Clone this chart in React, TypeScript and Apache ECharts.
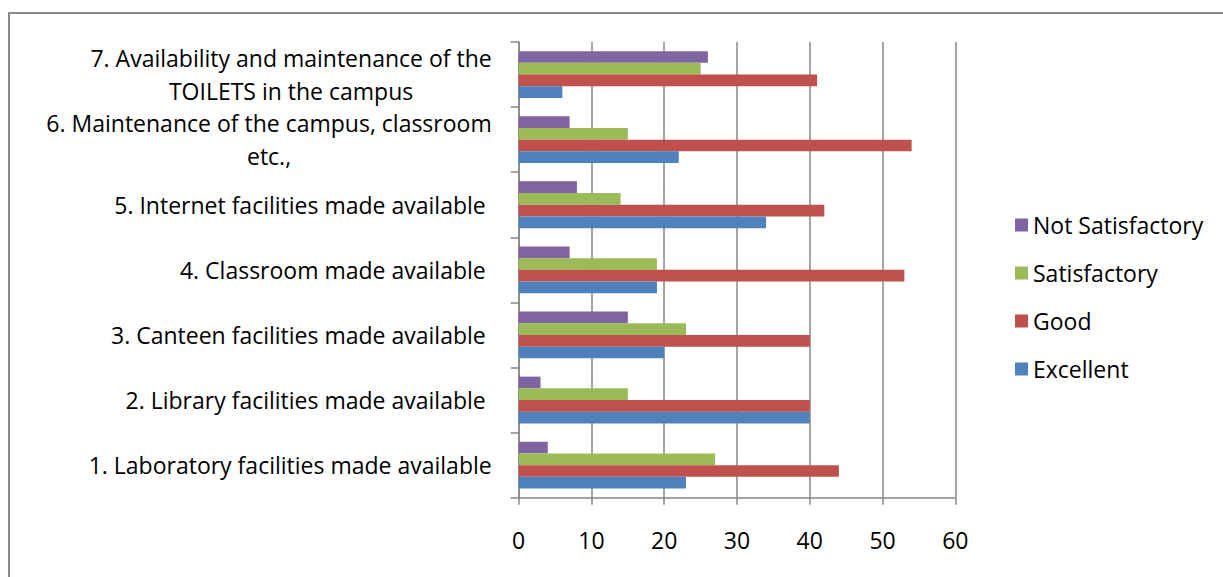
import React, { useEffect, useRef } from "react";
import * as echarts from "echarts";

const categories = [
  "1. Laboratory facilities made available",
  "2. Library facilities made available ",
  "3. Canteen facilities made available ",
  "4. Classroom made available ",
  "5. Internet facilities made available ",
  "6. Maintenance of the campus, classroom\netc.,",
  "7. Availability and maintenance of the\nTOILETS in the campus",
];

const excellent = [23, 40, 20, 19, 34, 22, 6];
const good = [44, 40, 40, 53, 42, 54, 41];
const satisfactory = [27, 15, 23, 19, 14, 15, 25];
const notSatisfactory = [4, 3, 15, 7, 8, 7, 26];

const xTicks = { min: 0, max: 60, interval: 10 };

const FONT = "'Open Sans', 'Noto Sans', sans-serif";
const FONT_SIZE = 23;
const GRID_GRAY = "#878787";

// Wrapped category names: each line is centred inside the label block.
const formatCategory = (value: string) =>
  value.includes("\n")
    ? value
        .split("\n")
        .map((line) => `{c|${line}}`)
        .join("\n")
    : value;

export default function App() {
  const ref = useRef<HTMLDivElement>(null);

  useEffect(() => {
    if (!ref.current) return;
    const chart = echarts.init(ref.current, null, { renderer: "svg" });

    const bar = (name: string, data: number[], color: string) => ({
      name,
      type: "bar",
      data,
      barWidth: 11.7,
      barGap: "0%",
      itemStyle: { color },
    });

    chart.setOption({
      animation: false,
      backgroundColor: "#ffffff",
      textStyle: { fontFamily: FONT, color: "#000" },
      grid: { left: 518.7, right: 267.7, top: 42, bottom: 79.3, containLabel: false },
      legend: {
        orient: "vertical",
        left: 1015,
        top: 212,
        padding: 0,
        itemWidth: 13,
        itemHeight: 13,
        itemGap: 22,
        icon: "rect",
        data: ["Not Satisfactory", "Satisfactory", "Good", "Excellent"],
        textStyle: { fontFamily: FONT, fontSize: FONT_SIZE, color: "#000", lineHeight: 26 },
      },
      xAxis: {
        type: "value",
        min: xTicks.min,
        max: xTicks.max,
        interval: xTicks.interval,
        axisLine: { show: true, lineStyle: { color: GRID_GRAY, width: 1.5 } },
        axisTick: { show: true, length: 7, lineStyle: { color: GRID_GRAY, width: 1.5 } },
        splitLine: { show: true, lineStyle: { color: GRID_GRAY, width: 1.5 } },
        axisLabel: { fontFamily: FONT, fontSize: FONT_SIZE, color: "#000", margin: 30, lineHeight: 24 },
      },
      yAxis: {
        type: "category",
        data: categories,
        axisLine: { show: true, lineStyle: { color: GRID_GRAY, width: 1.5 } },
        axisTick: { show: true, length: 8, lineStyle: { color: GRID_GRAY, width: 1.5 } },
        axisLabel: {
          interval: 0,
          fontFamily: FONT,
          fontSize: FONT_SIZE,
          color: "#000",
          margin: 27,
          lineHeight: 33,
          align: "right",
          formatter: formatCategory,
          rich: {
            c: { align: "center", fontFamily: FONT, fontSize: FONT_SIZE, color: "#000", lineHeight: 33 },
          },
        },
      },
      series: [
        bar("Not Satisfactory", notSatisfactory, "#8064A2"),
        bar("Satisfactory", satisfactory, "#9BBB59"),
        bar("Good", good, "#C0504D"),
        bar("Excellent", excellent, "#4F81BD"),
      ],
      graphic: [
        {
          type: "rect",
          shape: { x: 9, y: 13, width: 1400, height: 800 },
          style: { fill: "none", stroke: "#8a8a8a", lineWidth: 2 },
          silent: true,
        },
      ],
    });

    return () => chart.dispose();
  }, []);

  return (
    <div
      ref={ref}
      style={{ position: "fixed", left: 0, top: 0, width: 1223, height: 577 }}
    />
  );
}
